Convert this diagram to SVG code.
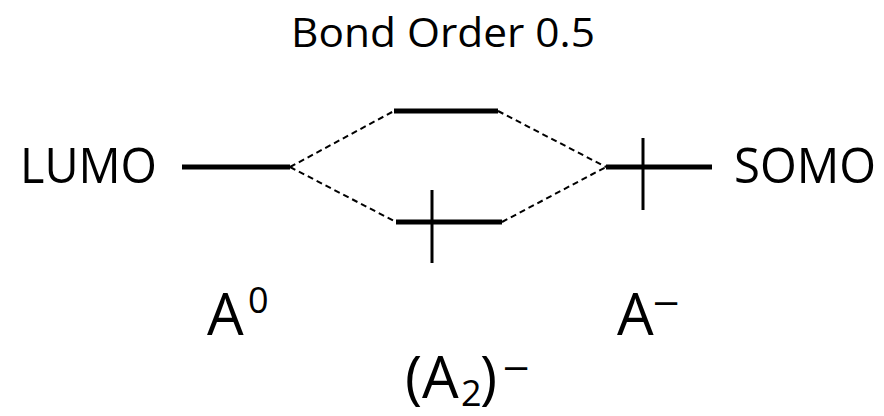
<svg xmlns="http://www.w3.org/2000/svg" width="884" height="416" viewBox="0 0 884 416">
<style>
text{font-family:"Open Sans","Liberation Sans",sans-serif;fill:#000}
.lvl{stroke:#000;stroke-width:5;fill:none}
.spin{stroke:#000;stroke-width:3;fill:none}
.dash{stroke:#000;stroke-width:2;stroke-dasharray:6 4;fill:none}
.big{font-size:58px}
.sup{font-size:36px}
.min{font-size:40px;font-family:"Liberation Sans",sans-serif}
</style>
<rect width="884" height="416" fill="#fff"/>
<g id="title"><text x="291" y="47" font-size="41" textLength="304" lengthAdjust="spacingAndGlyphs">Bond Order 0.5</text></g>
<g id="connectors">
<line class="dash" x1="290" y1="167" x2="394" y2="111"/>
<line class="dash" x1="498" y1="111" x2="606" y2="167"/>
<line class="dash" x1="290" y1="167" x2="396" y2="222"/>
<line class="dash" x1="502" y1="222" x2="606" y2="167"/>
</g>
<g id="lumo">
<line class="lvl" x1="182" y1="167" x2="290" y2="167"/>
<text x="20" y="183" font-size="50" textLength="137" lengthAdjust="spacingAndGlyphs">LUMO</text>
</g>
<g id="antibonding"><line class="lvl" x1="394" y1="111" x2="498" y2="111"/></g>
<g id="bonding">
<line class="lvl" x1="396" y1="222" x2="502" y2="222"/>
<line class="spin" x1="432" y1="190" x2="432" y2="263"/>
</g>
<g id="somo">
<line class="lvl" x1="606" y1="167" x2="712" y2="167"/>
<line class="spin" x1="643" y1="138" x2="643" y2="210"/>
<text x="734" y="183" font-size="50" textLength="142" lengthAdjust="spacingAndGlyphs">SOMO</text>
</g>
<g id="label-a0"><text class="big" x="207" y="335">A<tspan class="sup" x="248" y="313">0</tspan></text></g>
<g id="label-aminus"><text class="big" x="617" y="335">A<tspan class="min" x="655" y="314">–</tspan></text></g>
<g id="label-a2"><text class="big" x="405" y="398">(A<tspan class="sup" x="461" y="406">2</tspan><tspan x="480" y="398">)</tspan><tspan class="min" x="505" y="379">–</tspan></text></g>
</svg>
